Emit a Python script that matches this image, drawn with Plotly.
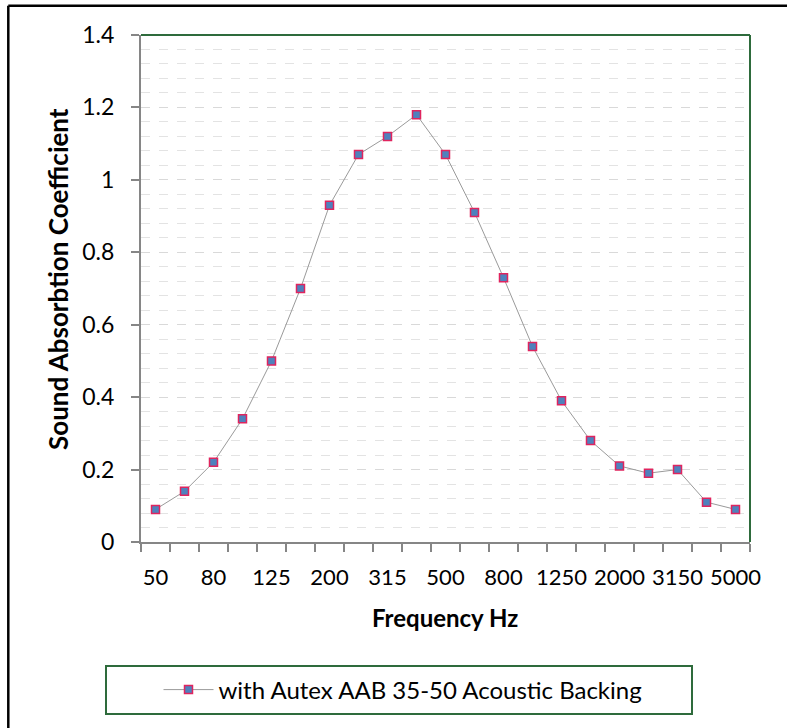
import plotly.graph_objects as go

frequencies = ["50", "63", "80", "100", "125", "160", "200", "250", "315", "400", "500",
               "630", "800", "1000", "1250", "1600", "2000", "2500", "3150", "4000", "5000"]
absorption = [0.09, 0.14, 0.22, 0.34, 0.50, 0.70, 0.93, 1.07, 1.12, 1.18, 1.07,
              0.91, 0.73, 0.54, 0.39, 0.28, 0.21, 0.19, 0.20, 0.11, 0.09]
series_name = "with Autex AAB 35-50 Acoustic Backing"
y_ticks = [0, 0.2, 0.4, 0.6, 0.8, 1, 1.2, 1.4]
y_tick_text = ["0", "0.2", "0.4", "0.6", "0.8", "1", "1.2", "1.4"]
x_title = "Frequency Hz"
y_title = "Sound Absorbtion Coefficient"

xs = list(range(len(frequencies)))
label_idx = xs[::2]

FONT = "Lato, 'Open Sans', sans-serif"
GREEN = "#2E6B3C"

fig = go.Figure()
fig.add_trace(go.Scatter(
    x=xs, y=absorption, mode="lines+markers", name=series_name,
    line=dict(color="#9A9A9A", width=1),
    marker=dict(symbol="square", size=8, color="#4F81BD",
                line=dict(color="#E0245E", width=1.5)),
))

W, H = 787, 728
L, R, T, B = 141, 37, 35, 186
pw, ph = W - L - R, H - T - B

def px(x):
    return (x - L) / pw

def py(y):
    return (H - B - y) / ph

shapes = [
    # outer frame (left and top edges visible)
    dict(type="line", xref="paper", yref="paper", x0=px(8.3), x1=px(W), y0=py(5.8), y1=py(5.8),
         line=dict(color="black", width=2.5), layer="above"),
    dict(type="line", xref="paper", yref="paper", x0=px(8.3), x1=px(8.3), y0=py(5.8), y1=py(H),
         line=dict(color="black", width=2.5), layer="above"),
    # plot area top and right borders
    dict(type="line", xref="paper", yref="paper", x0=0, x1=1, y0=1, y1=1,
         line=dict(color=GREEN, width=2), layer="above"),
    dict(type="line", xref="paper", yref="paper", x0=1, x1=1, y0=0, y1=1,
         line=dict(color=GREEN, width=2), layer="above"),
    # legend box
    dict(type="rect", xref="paper", yref="paper", x0=px(106), x1=px(692), y0=py(714), y1=py(666),
         line=dict(color=GREEN, width=2), layer="above"),
]

annotations = [
    dict(text="<b>" + x_title + "</b>", xref="paper", yref="paper", x=px(445), y=py(617),
         xanchor="center", yanchor="middle", showarrow=False, font=dict(size=24, family=FONT)),
    dict(text="<b>" + y_title + "</b>", xref="paper", yref="paper", x=px(58), y=py(279),
         xanchor="center", yanchor="middle", showarrow=False, textangle=-90,
         font=dict(size=26, family=FONT)),
]

fig.update_layout(
    width=W, height=H,
    margin=dict(l=L, r=R, t=T, b=B),
    paper_bgcolor="white", plot_bgcolor="white",
    font=dict(family=FONT, color="black", size=22),
    shapes=shapes,
    annotations=annotations,
    showlegend=True,
    legend=dict(x=px(403), y=py(690), xanchor="center", yanchor="middle",
                orientation="h", font=dict(size=24, family=FONT), itemwidth=50,
                bgcolor="rgba(0,0,0,0)", borderwidth=0),
    xaxis=dict(
        range=[-0.5, len(frequencies) - 0.5],
        tickmode="array", tickvals=label_idx,
        ticktext=[frequencies[i] for i in label_idx],
        ticks="", showgrid=False, zeroline=False,
        showline=True, linecolor="#868686", linewidth=2,
        tickfont=dict(size=22, family=FONT), ticklabelstandoff=15,
        minor=dict(tickmode="array", tickvals=[i - 0.5 for i in range(len(frequencies) + 1)],
                   ticks="outside", ticklen=8, tickcolor="#868686", tickwidth=1.5, showgrid=False),
        fixedrange=True,
    ),
    yaxis=dict(
        range=[0, 1.4],
        tickmode="array", tickvals=y_ticks, ticktext=y_tick_text,
        ticks="outside", ticklen=8, tickcolor="#868686", tickwidth=1.5,
        showgrid=True, gridcolor="#D9D9D9", griddash="dash", gridwidth=1,
        zeroline=False,
        showline=True, linecolor="#868686", linewidth=2,
        tickfont=dict(size=23, family=FONT), ticklabelstandoff=12,
        minor=dict(dtick=0.04, showgrid=True, gridcolor="#E3E3E3", griddash="dash", gridwidth=1),
        fixedrange=True,
    ),
)

fig.write_html("out.html", config={"displayModeBar": False},
               post_script="document.body.style.margin='0px';"
                           "document.body.style.overflow='hidden';"
                           "document.documentElement.style.overflow='hidden';")
